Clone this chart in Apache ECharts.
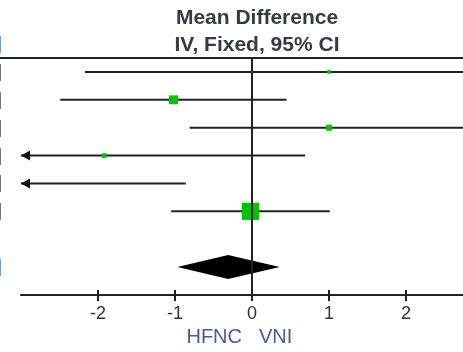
<!DOCTYPE html>
<html>
<head>
<meta charset="utf-8">
<script src="https://cdn.jsdelivr.net/npm/echarts@6/dist/echarts.min.js"></script>
<style>
  html, body { margin: 0; padding: 0; background: #fff; }
  #chart { width: 463px; height: 352px; }
</style>
</head>
<body>
<div id="chart"></div>
<script>
  // study rows: mean difference, 95% CI, weight (%)
  const means = [1.0, -1.02, 1.0, -1.92, -3.5, -0.02]
  const lows = [-2.17, -2.49, -0.81, -4.53, -6.14, -1.05]
  const highs = [4.17, 0.45, 2.81, 0.69, -0.86, 1.01]
  const weights = [3, 18, 8, 5, 1, 67]
  // pooled (fixed) estimate: mean, low, high
  const total = [-0.31, -0.97, 0.36]
  const totalRow = 7
  const xTicks = [-2, -1, 0, 1, 2]
  const xMin = -3
  const xMax = 3

  const lineColor = '#222'
  const green = '#00c400'

  const chart = echarts.init(document.getElementById('chart'))

  function renderStudy(params, api) {
    const row = api.value(0)
    const m = api.value(1)
    const lo = api.value(2)
    const hi = api.value(3)
    const w = api.value(4)
    const a = api.coord([Math.max(lo, xMin), row])
    const b = api.coord([Math.min(hi, xMax), row])
    const children = [{
      type: 'line',
      shape: { x1: a[0], y1: a[1], x2: b[0], y2: b[1] },
      style: { stroke: lineColor, lineWidth: 2 }
    }]
    if (lo < xMin) {
      children.push({
        type: 'polygon',
        shape: { points: [[a[0], a[1]], [a[0] + 9, a[1] - 5], [a[0] + 9, a[1] + 5]] },
        style: { fill: '#111' }
      })
    }
    if (hi > xMax) {
      children.push({
        type: 'polygon',
        shape: { points: [[b[0], b[1]], [b[0] - 9, b[1] - 5], [b[0] - 9, b[1] + 5]] },
        style: { fill: '#111' }
      })
    }
    if (m >= xMin && m <= xMax) {
      const c = api.coord([m, row])
      const s = Math.sqrt(w) * 2.1
      children.push({
        type: 'rect',
        shape: { x: c[0] - s / 2, y: c[1] - s / 2, width: s, height: s },
        style: { fill: green }
      })
    }
    return { type: 'group', children: children }
  }

  function renderDiamond(params, api) {
    const row = api.value(0)
    const c = api.coord([api.value(1), row])
    const l = api.coord([api.value(2), row])
    const r = api.coord([api.value(3), row])
    const h = 12
    return {
      type: 'polygon',
      shape: { points: [[l[0], l[1]], [c[0], c[1] - h], [r[0], r[1]], [c[0], c[1] + h]] },
      style: { fill: '#000' }
    }
  }

  chart.setOption({
    animation: false,
    title: {
      text: 'Mean Difference\nIV, Fixed, 95% CI',
      left: 252,
      top: 0,
      textAlign: 'center',
      textStyle: {
        fontFamily: 'Liberation Sans',
        fontSize: 21,
        fontWeight: 'bold',
        lineHeight: 27,
        color: '#363a42'
      }
    },
    grid: { left: 21, top: 58, width: 462, height: 237, outerBoundsMode: 'none', containLabel: false },
    xAxis: [{
      type: 'value',
      min: xMin,
      max: xMax,
      interval: 1,
      splitLine: { show: false },
      axisLine: { onZero: false, lineStyle: { color: lineColor, width: 2 } },
      axisTick: { customValues: xTicks, length: 6, lineStyle: { color: lineColor, width: 2 } },
      axisLabel: {
        customValues: xTicks,
        margin: 10,
        fontFamily: 'Liberation Sans',
        fontSize: 18,
        color: '#333'
      }
    }, {
      type: 'value',
      position: 'bottom',
      min: xMin,
      max: xMax,
      interval: 1,
      splitLine: { show: false },
      axisLine: { show: false, onZero: false },
      axisTick: { customValues: xTicks, inside: true, length: 5, lineStyle: { color: lineColor, width: 2 } },
      axisLabel: { show: false }
    }],
    yAxis: {
      type: 'value',
      min: -0.5,
      max: 8,
      inverse: true,
      show: false
    },
    series: [{
      type: 'custom',
      renderItem: renderStudy,
      encode: { x: 1, y: 0 },
      data: means.map((m, i) => [i, m, lows[i], highs[i], weights[i]]),
      markLine: {
        silent: true,
        symbol: 'none',
        label: { show: false },
        lineStyle: { color: lineColor, width: 2, type: 'solid' },
        data: [{ xAxis: 0 }]
      }
    }, {
      type: 'custom',
      renderItem: renderDiamond,
      encode: { x: 1, y: 0 },
      data: [[totalRow, total[0], total[1], total[2]]]
    }]
  })

  // clipped text of the column to the left, and the scale captions
  const bracket = (y, color) => ({
    type: 'text', x: 2, y: y,
    style: { text: ']', align: 'right', verticalAlign: 'middle', fontFamily: 'Liberation Sans', fontSize: 18, fill: color }
  })
  const edge = means.map((m, i) => bracket(chart.convertToPixel({ gridIndex: 0 }, [0, i])[1], '#444'))
  edge.push(bracket(chart.convertToPixel({ gridIndex: 0 }, [0, totalRow])[1], '#3b7bd0'))
  edge.push(bracket(44, '#3b7bd0'))

  chart.setOption({
    graphic: edge.concat([{
      type: 'line',
      shape: { x1: 0, y1: 58, x2: 463, y2: 58 },
      style: { stroke: lineColor, lineWidth: 2 }
    }, {
      type: 'text',
      x: 242, y: 337,
      style: { text: 'HFNC', align: 'right', verticalAlign: 'middle', fontFamily: 'Liberation Sans', fontSize: 20, fill: '#4a5a99' }
    }, {
      type: 'text',
      x: 259, y: 337,
      style: { text: 'VNI', align: 'left', verticalAlign: 'middle', fontFamily: 'Liberation Sans', fontSize: 20, fill: '#4a5a99' }
    }])
  })
</script>
</body>
</html>
